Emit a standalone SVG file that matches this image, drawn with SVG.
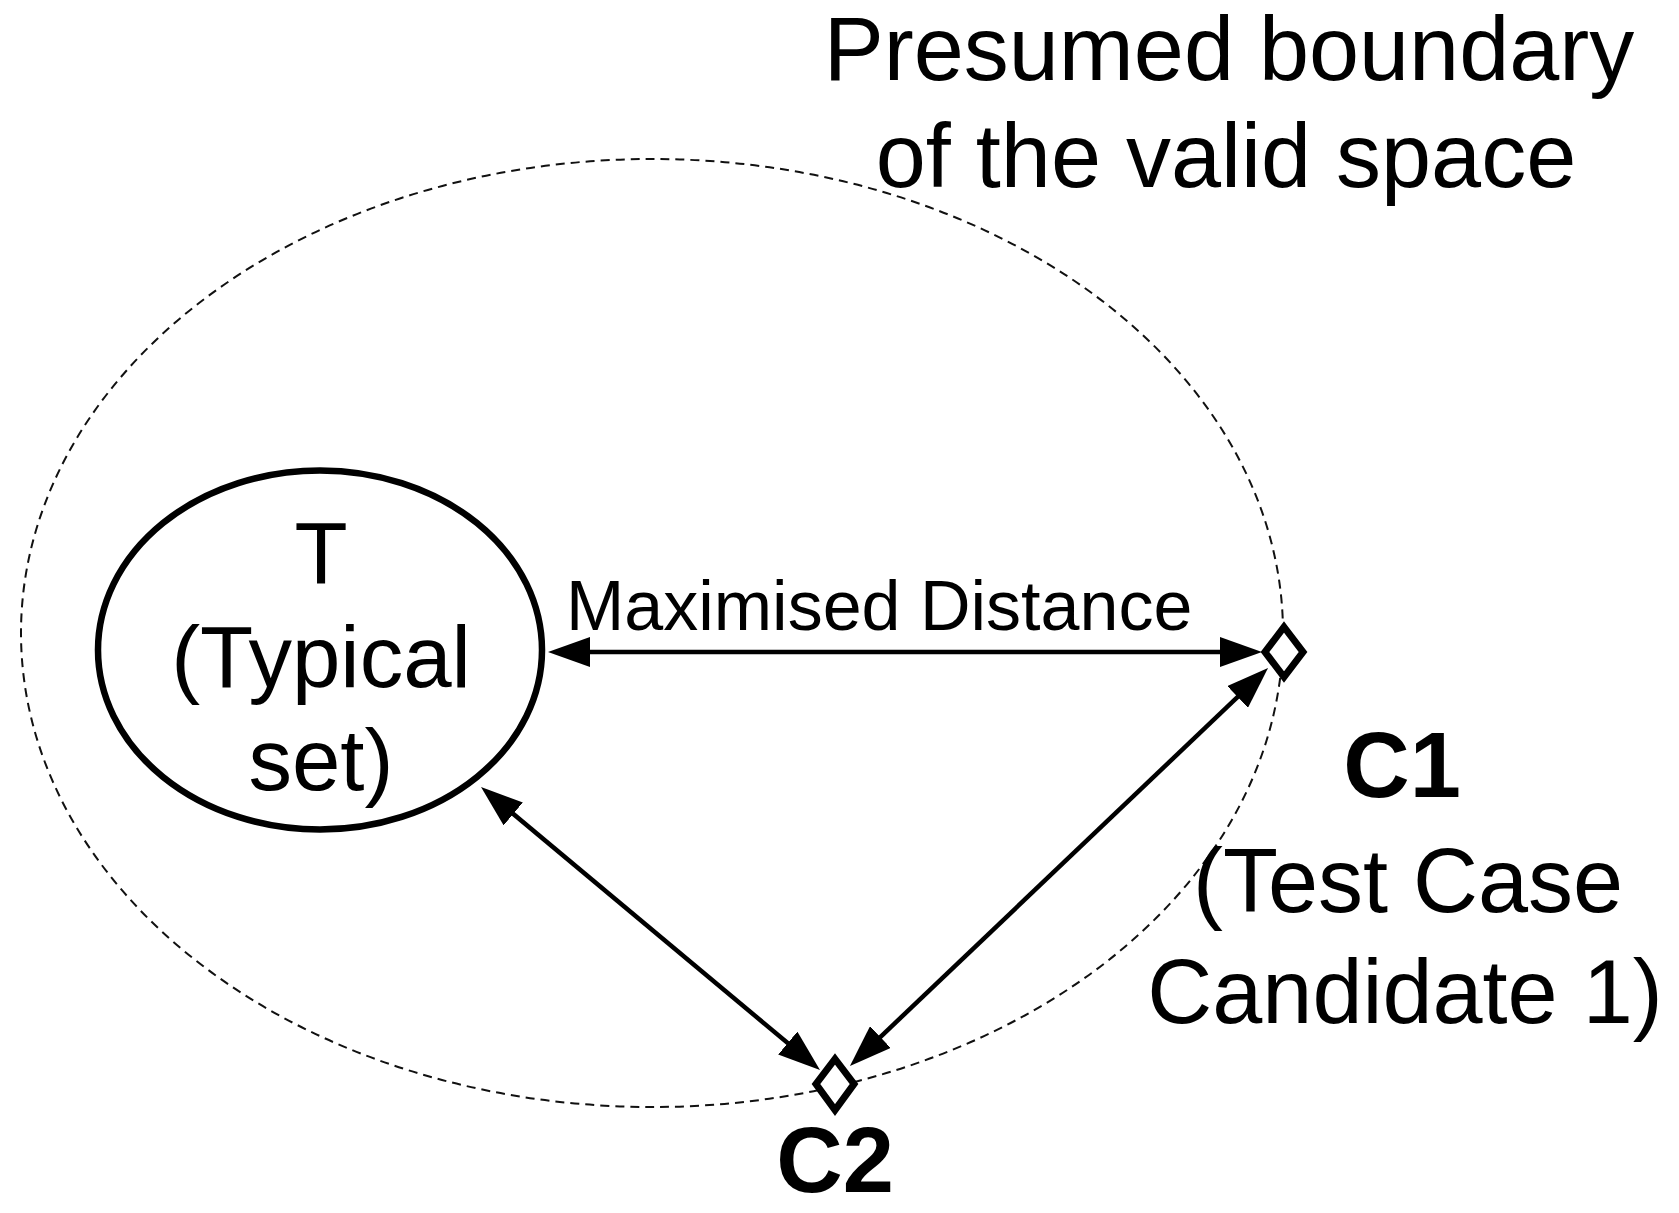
<svg xmlns="http://www.w3.org/2000/svg" width="1679" height="1213" viewBox="0 0 1679 1213">
<defs>
<style>
text{font-family:"Liberation Sans",Arial,Helvetica,sans-serif;fill:#000}
.lbl{font-size:90px;text-anchor:middle}
.t{font-size:87px;text-anchor:middle}
.b{font-size:92px;font-weight:bold;text-anchor:middle}
.md{font-size:70px}
.conn{stroke:#000;stroke-width:4.5;fill:none;marker-start:url(#ah);marker-end:url(#ah)}
.dia{fill:#fff;stroke:#000;stroke-width:7;stroke-linejoin:miter}
</style>
<marker id="ah" viewBox="0 0 42 30" refX="32" refY="15" markerWidth="42" markerHeight="30" markerUnits="userSpaceOnUse" orient="auto-start-reverse">
<path d="M0,0 L42,15 L0,30 z" fill="#000"/>
</marker>
</defs>
<rect width="1679" height="1213" fill="#fff"/>
<g id="boundary">
<ellipse cx="652" cy="633" rx="631" ry="474" fill="none" stroke="#111" stroke-width="2" stroke-dasharray="9 6"/>
<text class="lbl" x="1229" y="80">Presumed boundary</text>
<text class="lbl" x="1226" y="187">of the valid space</text>
</g>
<g id="connectors">
<line class="conn" x1="558" y1="652" x2="1252" y2="652"/>
<line class="conn" x1="1260.8" y1="674.9" x2="857.2" y2="1059.1"/>
<line class="conn" x1="488.7" y1="793.4" x2="812.3" y2="1063.6"/>
<text class="md" x="566" y="630">Maximised Distance</text>
</g>
<g id="node-T">
<ellipse cx="320" cy="650" rx="222" ry="179.5" fill="#fff" stroke="#000" stroke-width="6.5"/>
<text class="t" x="321" y="583">T</text>
<text class="t" x="321" y="687">(Typical</text>
<text class="t" x="321" y="790">set)</text>
</g>
<g id="node-C1">
<path class="dia" d="M1284,627 L1303,652 L1284,677 L1265,652 z"/>
<text class="b" x="1402" y="797">C1</text>
<text class="lbl" x="1408" y="912">(Test Case</text>
<text class="lbl" x="1405" y="1023">Candidate 1)</text>
</g>
<g id="node-C2">
<path class="dia" d="M835,1059 L854,1084 L835,1110 L816,1084 z"/>
<text class="b" x="835" y="1192">C2</text>
</g>
</svg>
